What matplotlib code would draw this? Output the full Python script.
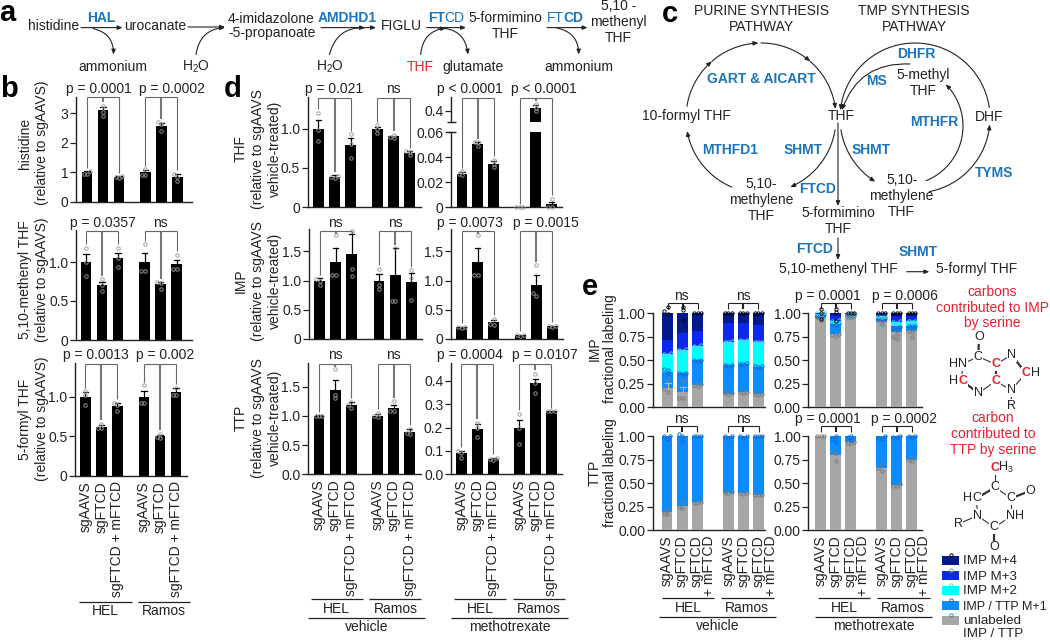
import numpy as np
import matplotlib
matplotlib.use("Agg")
import matplotlib.pyplot as plt
from matplotlib.patches import FancyArrowPatch, Rectangle
from matplotlib.path import Path

plt.rcParams['font.family'] = ['Liberation Sans', 'DejaVu Sans']
plt.rcParams['mathtext.fontset'] = 'custom'
plt.rcParams['mathtext.rm'] = 'Liberation Sans'
plt.rcParams['mathtext.default'] = 'regular'
plt.rcParams['text.color'] = '#222222'

W, H = 1050, 640
BLUE = '#1b75bc'
RED = '#e8222e'
C_M4, C_M3, C_M2, C_M1, C_UN = '#001a8c', '#0a28f0', '#00ffff', '#0a8cff', '#a6a6a6'
FS = 10

# ---------- panel b data ----------
his_mean = [1.0, 3.1, 0.85, 1.0, 2.55, 0.85]
his_err = [0.05, 0.12, 0.03, 0.09, 0.12, 0.08]
his_dots = [[.93, .93, 1.03], [2.9, 3.05, 3.25], [.8, .83, .87], [.92, .92, 1.1], [2.4, 2.7, 2.65], [.7, .85, .95]]
men_mean = [1.0, 0.70, 1.05, 1.0, 0.72, 0.97]
men_err = [0.10, 0.04, 0.07, 0.12, 0.02, 0.06]
men_dots = [[.82, 1.0, 1.18], [.63, .7, .78], [.93, 1.05, 1.18], [.88, .89, 1.23], [.66, .73, .74], [.91, .91, 1.09]]
for_mean = [1.0, 0.62, 0.88, 1.0, 0.50, 1.06]
for_err = [0.06, 0.03, 0.04, 0.07, 0.02, 0.05]
for_dots = [[.9, 1.03, 1.07], [.6, .6, .66], [.82, .9, .93], [.92, .93, 1.15], [.48, .49, .53], [1.02, 1.02, 1.12]]

# ---------- panel d data ----------
thf_veh_mean = [1.0, 0.39, 0.79, 1.0, 0.90, 0.69]
thf_veh_err = [0.11, 0.015, 0.09, 0.02, 0.01, 0.02]
thf_veh_dots = [[.84, .98, 1.2], [.37, .39, .40], [.63, .8, .93], [.95, 1.0, 1.04], [.88, .89, .92], [.66, .70, .71]]
thf_mtx_mean = [0.027, 0.051, 0.035, 0.0, 0.43, 0.0025]
thf_mtx_err = [0.001, 0.001, 0.002, 0.0, 0.02, 0.002]
thf_mtx_dots = [[.026, .027, .029], [.049, .052, .052], [.032, .035, .038], [0, 0, 0], [.40, .43, .46], [0, 0, .007]]
imp_veh_mean = [1.0, 1.32, 1.46, 1.0, 1.10, 0.98]
imp_veh_err = [0.05, 0.23, 0.34, 0.11, 0.45, 0.15]
imp_veh_dots = [[.93, 1.0, 1.03], [1.1, 1.1, 1.78], [1.08, 1.2, 1.85], [.85, .93, 1.2], [.65, .65, 1.55], [.67, 1.05, 1.18]]
imp_mtx_mean = [0.20, 1.32, 0.29, 0.06, 0.92, 0.22]
imp_mtx_err = [0.01, 0.23, 0.04, 0.01, 0.17, 0.01]
imp_mtx_dots = [[.18, .2, .21], [1.1, 1.1, 1.78], [.24, .25, .35], [.05, .06, .07], [.73, .78, 1.26], [.2, .22, .23]]
ttp_veh_mean = [1.0, 1.45, 1.18, 1.0, 1.13, 0.73]
ttp_veh_err = [0.01, 0.16, 0.05, 0.03, 0.06, 0.04]
ttp_veh_dots = [[.99, 1.0, 1.0], [1.3, 1.36, 1.8], [1.13, 1.18, 1.24], [.98, .99, 1.05], [1.08, 1.08, 1.25], [.69, .7, .78]]
ttp_mtx_mean = [0.09, 0.195, 0.067, 0.197, 0.39, 0.27]
ttp_mtx_err = [0.01, 0.02, 0.003, 0.037, 0.02, 0.001]
ttp_mtx_dots = [[.07, .09, .1], [.16, .2, .22], [.06, .065, .07], [.13, .2, .26], [.35, .39, .43], [.27, .27, .27]]

# ---------- panel e data ----------
ev_unl = [.21, .16, .24, .14, .16, .14]
ev_m1 = [.17, .20, .26, .31, .30, .29]
ev_m2 = [.19, .25, .15, .25, .26, .26]
ev_m3 = [.15, .18, .16, .20, .18, .19]
ev_m4 = [.28, .21, .19, .10, .10, .12]
em_unl = [.95, .78, .97, .91, .80, .81]
em_m1 = [.03, .11, .015, .035, .06, .06]
em_m2 = [.01, .03, .005, .025, .05, .05]
em_m3 = [.005, .05, .005, .02, .06, .05]
em_m4 = [.005, .03, .005, .01, .03, .03]
tv_unl = [.19, .26, .30, .40, .40, .37]
tv_m1 = [.81, .74, .70, .60, .60, .63]
tm_unl = [1.0, .80, .94, .66, .48, .75]
tm_m1 = [0.0, .20, .06, .34, .52, .25]

ev_unl_dots = [[.16, .19, .30], [.10, .10, .28], [.25, .24, .23], [.14, .15, .15], [.15, .16, .16], [.13, .14, .14]]
ev_m1_dots = [[.41, .40, .36], [.37, .36, .35], [.50, .50, .49], [.44, .45, .45], [.46, .47, .46], [.43, .44, .44]]
ev_m2_dots = [[.58, .57, .56], [.61, .62, .60], [.66, .65, .64], [.71, .70, .70], [.72, .72, .71], [.69, .70, .69]]
ev_m4_dots = [[1.07, 1.02, .99], [1.07, 1.03, .93], [1, 1, 1], [1, 1, 1], [1, 1, 1], [1, 1, 1]]
em_unl_dots = [[.96, .93, .98], [.77, .78, .76], [.96, .96, .97], [.89, .93, .93], [.73, .75, .78], [.75, .81, .80]]
em_m1_dots = [[.99, .97, .96], [.90, .89, .88], [.98, .985, .99], [.95, .95, .94], [.85, .84, .83], [.87, .86, .86]]
em_m2_dots = [[1.0, 1.01, .99], [.92, .91, .93], [.99, .99, .99], [.97, .96, .97], [.91, .92, .90], [.92, .91, .92]]
em_m4_dots = [[1.05, 1.0, .94], [1.05, 1.01, .92], [1, 1, 1], [1, 1, 1], [1, 1, 1], [1, 1, 1]]
tv_unl_dots = [[.17, .18, .21], [.24, .25, .30], [.29, .30, .29], [.40, .41, .40], [.39, .40, .40], [.37, .37, .37]]
tv_m1_dots = [[.97, 1.0, 1.0], [1.02, 1.0, .95], [1, 1, 1], [.98, 1, 1], [.98, 1, 1], [1, 1, 1]]
tm_unl_dots = [[1, 1, 1], [.74, .82, .83], [.93, .93, .94], [.63, .66, .70], [.47, .47, .49], [.74, .75, .78]]
tm_m1_dots = [[], [1.0, .97, .94], [1, .99, .96], [1.0, .98, .97], [1, .99, .99], [1, 1, .99]]

ev_unl_err = [.05, .06, 0, 0, 0, 0]
em_m4_err = [0, .03, 0, 0, 0, 0]

labels_full = ['sgAAVS', 'sgFTCD', 'sgFTCD + mFTCD']

fig = plt.figure(figsize=(W / 100, H / 100), dpi=100)
ov = fig.add_axes([0, 0, 1, 1], zorder=10)
ov.set_xlim(0, W)
ov.set_ylim(H, 0)
ov.axis('off')
ov.patch.set_alpha(0)


def T(x, y, s, **k):
    k.setdefault('fontsize', FS)
    k.setdefault('ha', 'center')
    k.setdefault('va', 'center')
    return ov.text(x, y, s, **k)


def L(x0, y0, x1, y1, lw=0.9, c='#222222'):
    ov.plot([x0, x1], [y0, y1], color=c, lw=lw, solid_capstyle='butt')


def to_ov(ax, x, y):
    return ov.transData.inverted().transform(ax.transData.transform((x, y)))


def mk_axes(x0, x1, base, top, unit, bar0, sp, bar1g):
    ax = fig.add_axes([x0 / W, 1 - base / H, (x1 - x0) / W, (base - top) / H])
    ax.set_xlim((x0 - bar0) / sp, (x1 - bar0) / sp)
    ax.set_ylim(0, (base - top) / unit)
    for s in ('top', 'right'):
        ax.spines[s].set_visible(False)
    for s in ('left', 'bottom'):
        ax.spines[s].set_linewidth(1.0)
        ax.spines[s].set_color('#222222')
    ax.tick_params(axis='y', length=4, width=0.9, pad=1.5, labelsize=FS, color='#222222', labelcolor='#222222')
    ax.set_xticks([])
    ax.patch.set_alpha(0)
    ax._pos6 = np.array([0, 1, 2, bar1g, bar1g + 1, bar1g + 2]) * 1.0
    ax._sp = sp
    return ax


def swarm(ax, xc, vals, color, ms=2.5, clip=False):
    ordered = sorted(vals)
    placed = []
    for v in ordered:
        py = ax.transData.transform((0, v))[1]
        offs = [0, -1, 1]
        for k in offs:
            dx = k * 3.4
            if all((dx - a) ** 2 + (py - b) ** 2 >= 3.0 ** 2 for a, b in placed):
                break
        placed.append((dx, py))
        ax.plot([xc + dx / ax._sp], [v], 'o', ms=ms, mfc='none', mec=color, mew=0.65,
                zorder=6, clip_on=clip)


def bars(ax, mean, err, dots, yt, yl, xlabels=False):
    pos = ax._pos6
    ax.bar(pos, mean, width=0.68, color='black', zorder=3)
    for p, m, e in zip(pos, mean, err):
        ax.plot([p, p], [m, m + e], color='black', lw=0.9, zorder=4)
        ax.plot([p - .16, p + .16], [m + e, m + e], color='black', lw=0.9, zorder=4)
    for p, d in zip(pos, dots):
        swarm(ax, p, d, '#9a9a9a')
    ax.set_yticks(yt)
    ax.set_yticklabels(yl)
    if xlabels:
        xlab(ax, labels_full)


def xlab(ax, labs):
    for p, s in zip(ax._pos6, labs * 2):
        ax.annotate(s, xy=(p, 0), xycoords=('data', 'axes fraction'), xytext=(0, -4),
                    textcoords='offset points', rotation=90, ha='center', va='top', fontsize=FS,
                    annotation_clip=False)


def bracket(ax, ypx, dots, start=0, sets=(0, 3), legax=None, midgray=True, short=None, c='#666666'):
    for g in sets:
        xs = []
        for i in range(3):
            p = ax._pos6[g + i]
            a = legax[g + i] if legax else ax
            tv = max(dots[g + i]) if dots[g + i] else 0
            x_ov, y_ov = to_ov(a, p, tv)
            y_end = ypx + short if short else min(y_ov - 3.5, 10000)
            y_end = max(y_end, ypx + 3)
            xs.append(x_ov)
            mid = (i == 1)
            L(x_ov, ypx, x_ov, y_end, lw=1.5 if mid else 0.8, c=('#777777' if midgray else c) if mid else c)
        L(xs[0], ypx, xs[2], ypx, lw=0.8, c=c)


# ========== panel b ==========
a1 = mk_axes(76, 192, 201.7, 97, 29.5, 87, 16, 58.3 / 16)
bars(a1, his_mean, his_err, his_dots, [0, 1, 2, 3], ['0', '1', '2', '3'])
a2 = mk_axes(76, 192, 340, 230, 78, 86, 16, 58.7 / 16)
bars(a2, men_mean, men_err, men_dots, [0, .5, 1], ['0', '0.5', '1.0'])
a3 = mk_axes(75, 187, 475.7, 363, 78.7, 85.3, 16, 58.7 / 16)
bars(a3, for_mean, for_err, for_dots, [0, .5, 1], ['0', '0.5', '1.0'], xlabels=True)

# ========== panel d ==========
d1 = mk_axes(307.7, 420.7, 207.3, 97, 78.7, 318.3, 16.2, 59 / 16.2)
bars(d1, thf_veh_mean, thf_veh_err, thf_veh_dots, [0, .5, 1], ['0', '0.5', '1.0'])

d2 = mk_axes(451.3, 561.7, 207.3, 132.3, 1250, 462, 15.9, 57.7 / 15.9)
d2.spines['left'].set_bounds(0, 0.06)
d2.set_ylim(0, 0.06)
d2.patch.set_alpha(0)
bars(d2, thf_mtx_mean, [e if m < .06 else 0 for m, e in zip(thf_mtx_mean, thf_mtx_err)],
     [d if max(d) < .06 else [] for d in thf_mtx_dots],
     [0, .02, .04, .06], ['0', '0.02', '0.04', '0.06'])
d2b = fig.add_axes([451.3 / W, 1 - 122.3 / H, 110.4 / W, 25.3 / H])
d2b.set_xlim(d2.get_xlim())
d2b.set_ylim(0.297, 0.527)
d2b._pos6 = d2._pos6
d2b._sp = d2._sp
for s in ('top', 'right', 'bottom'):
    d2b.spines[s].set_visible(False)
d2b.spines['left'].set_linewidth(1.0)
d2b.spines['left'].set_color('#222222')
d2b.patch.set_alpha(0)
d2b.set_xticks([])
d2b.set_yticks([0.4])
d2b.set_yticklabels(['0.4'])
d2b.tick_params(axis='y', length=4, width=0.9, pad=1.5, labelsize=FS, color='#222222', labelcolor='#222222')
d2b.bar(d2b._pos6, thf_mtx_mean, width=0.68, color='black', zorder=3)
i_big = int(np.argmax(thf_mtx_mean))
p_big = d2b._pos6[i_big]
d2b.plot([p_big, p_big], [thf_mtx_mean[i_big], thf_mtx_mean[i_big] + thf_mtx_err[i_big]], color='black', lw=0.9, zorder=4)
d2b.plot([p_big - .16, p_big + .16], [thf_mtx_mean[i_big] + thf_mtx_err[i_big]] * 2, color='black', lw=0.9, zorder=4)
swarm(d2b, p_big, thf_mtx_dots[i_big], '#9a9a9a', clip=False)
L(447, 122.3, 456, 122.3, lw=1.0)
L(447, 132.3, 456, 132.3, lw=1.0)

d3 = mk_axes(309, 422, 339, 229, 58.4, 319.7, 16.1, 59.3 / 16.1)
bars(d3, imp_veh_mean, imp_veh_err, imp_veh_dots, [0, .5, 1, 1.5], ['0', '0.5', '1.0', '1.5'])
d4 = mk_axes(451, 563, 339, 229, 58.4, 461.7, 16, 58.6 / 16)
bars(d4, imp_mtx_mean, imp_mtx_err, imp_mtx_dots, [0, .5, 1, 1.5], ['0', '0.5', '1.0', '1.5'])
d5 = mk_axes(308, 420.7, 474.3, 363, 58.4, 319, 16.1, 58.7 / 16.1)
bars(d5, ttp_veh_mean, ttp_veh_err, ttp_veh_dots, [0, .5, 1, 1.5], ['0.0', '0.5', '1.0', '1.5'], xlabels=True)
d6 = mk_axes(451, 561.7, 474.3, 363, 233.3, 461.3, 15.9, 58 / 15.9)
bars(d6, ttp_mtx_mean, ttp_mtx_err, ttp_mtx_dots, [0, .1, .2, .3, .4], ['0.0', '0.1', '0.2', '0.3', '0.4'], xlabels=True)

# brackets b, d
bracket(a1, 97.3, his_dots)
bracket(a2, 230.7, men_dots)
bracket(a3, 364, for_dots)
bracket(d1, 98, thf_veh_dots)
bracket(d3, 230.7, imp_veh_dots)
bracket(d4, 230.7, imp_mtx_dots)
bracket(d5, 364.3, ttp_veh_dots)
bracket(d6, 364.3, ttp_mtx_dots)
lax = [d2, d2, d2, d2, d2b, d2]
bracket(d2, 98, thf_mtx_dots, legax=lax)

# ========== panel e ==========
def stack(ax, layers, colors, dotsets, yt=True):
    pos = ax._pos6
    bottom = np.zeros(6)
    for vals, c in zip(layers, colors):
        ax.bar(pos, vals, bottom=bottom, width=0.72, color=c, zorder=3, lw=0)
        bottom = bottom + np.array(vals)
    for ds, c in dotsets:
        for p, d in zip(pos, ds):
            swarm(ax, p, d, c, ms=2.4)
    ax.set_yticks([0, .25, .5, .75, 1])
    ax.set_yticklabels(['0.00', '0.25', '0.50', '0.75', '1.00'])


def err_layer(ax, tops, errs, c):
    for p, t, e in zip(ax._pos6, tops, errs):
        if e:
            ax.plot([p, p], [t, t + e], color=c, lw=0.9, zorder=5)
            ax.plot([p - .2, p + .2], [t + e, t + e], color=c, lw=0.9, zorder=5)


imp_colors = [C_UN, C_M1, C_M2, C_M3, C_M4]
DG, DB, DC, DK = '#7a7a7a', '#1466c8', '#5fd0e8', '#000000'
e1 = mk_axes(652.7, 765, 407.3, 313.3, 94, 667.7, 15, 60.6 / 15)
stack(e1, [ev_unl, ev_m1, ev_m2, ev_m3, ev_m4], imp_colors,
      [(ev_unl_dots, DG), (ev_m1_dots, DB), (ev_m2_dots, DC), (ev_m4_dots, DK)])
err_layer(e1, ev_unl, ev_unl_err, '#c8b48c')
e2 = mk_axes(808.3, 921.7, 407.3, 313.3, 94, 820.7, 15.1, 61 / 15.1)
stack(e2, [em_unl, em_m1, em_m2, em_m3, em_m4], imp_colors,
      [(em_unl_dots, DG), (em_m1_dots, DB), (em_m2_dots, DC), (em_m4_dots, DK)])
e3 = mk_axes(652.7, 765, 530.3, 436, 94.3, 667, 15.1, 61.3 / 15.1)
stack(e3, [tv_unl, tv_m1], [C_UN, C_M1], [(tv_unl_dots, DG), (tv_m1_dots, DB)])
e4 = mk_axes(808.3, 921.7, 530.3, 436, 94.3, 820.7, 15.1, 61 / 15.1)
stack(e4, [tm_unl, tm_m1], [C_UN, C_M1], [(tm_unl_dots, DG), (tm_m1_dots, DB)])
e_labels = ['sgAAVS', 'sgFTCD', 'sgFTCD\n+ mFTCD']
for ax in (e3, e4):
    for p, s in zip(ax._pos6, e_labels * 2):
        dx = 4.4 if '\n' in s else 0
        t = ax.annotate(s, xy=(p, 0), xycoords=('data', 'axes fraction'), xytext=(dx, -4),
                        textcoords='offset points', rotation=90, ha='center', va='top', fontsize=FS,
                        annotation_clip=False, linespacing=0.85, multialignment='right')
for ax, yb, ds in ((e1, 303.3, ev_m4_dots), (e2, 303.3, em_m4_dots), (e3, 425.7, tv_m1_dots), (e4, 425.7, tm_m1_dots)):
    bracket(ax, yb, ds, midgray=False, short=6, c='#222222')

# ---------- p values ----------
for x, y, s in [(98.7, 89, 'p = 0.0001'), (172, 89, 'p = 0.0002'), (102.7, 222.7, 'p = 0.0357'), (160.7, 222.7, 'ns'),
                (96, 355, 'p = 0.0013'), (165, 355, 'p = 0.002'),
                (334, 89, 'p = 0.021'), (393.7, 89, 'ns'), (470, 89, 'p < 0.0001'), (544, 89, 'p < 0.0001'),
                (335.7, 223, 'ns'), (395.3, 223, 'ns'), (470, 223, 'p = 0.0073'), (545.7, 223, 'p = 0.0015'),
                (335.7, 355, 'ns'), (393.7, 355, 'ns'), (470, 355, 'p = 0.0004'), (545, 355, 'p = 0.0107'),
                (681.7, 296, 'ns'), (743.3, 296, 'ns'), (828.3, 296, 'p = 0.0001'), (905, 296, 'p = 0.0006'),
                (681.7, 419.3, 'ns'), (743.3, 419.3, 'ns'), (828.3, 419.3, 'p = 0.0001'), (903.7, 419.3, 'p = 0.0002')]:
    T(x, y, s)

# ---------- y labels, one line at a time ----------
for x, y, s in [(25, 143, 'histidine'), (42, 143, '(relative to sgAAVS)'),
                (25, 280, '5,10-methenyl THF'), (42, 280, '(relative to sgAAVS)'),
                (25, 419, '5-formyl THF'), (42, 419, '(relative to sgAAVS)'),
                (241, 149, 'THF'), (258, 149, '(relative to sgAAVS'), (275, 149, 'vehicle-treated)'),
                (241, 281, 'IMP'), (258, 281, '(relative to sgAAVS'), (275, 281, 'vehicle-treated)'),
                (241, 418, 'TTP'), (258, 418, '(relative to sgAAVS'), (275, 418, 'vehicle-treated)'),
                (595, 349, 'IMP'), (610, 349, 'fractional labeling'),
                (595, 473, 'TTP'), (610, 473, 'fractional labeling')]:
    T(x, y, s, rotation=90)

# ---------- group lines ----------
for x0, x1, y in [(79.3, 131.7, 601.7), (138.3, 190, 601.7), (310.7, 362.7, 598.7), (369.3, 421.3, 598.7),
                  (454, 506, 598.7), (512.7, 564.7, 598.7), (307.7, 424.7, 617.7), (451, 567.7, 617.7),
                  (662.3, 714.3, 598), (720.7, 774, 598), (818.3, 870, 598), (876.7, 930, 598),
                  (659, 775.7, 616.7), (815, 931.7, 616.7)]:
    L(x0, y, x1, y, lw=0.9)
for x, y, s in [(105, 611, 'HEL'), (164, 611, 'Ramos'), (336.7, 608.7, 'HEL'), (395.7, 608.7, 'Ramos'),
                (480, 608.7, 'HEL'), (539, 608.7, 'Ramos'), (366.3, 626.7, 'vehicle'), (509.3, 626.7, 'methotrexate'),
                (688.3, 607.7, 'HEL'), (746.7, 607.7, 'Ramos'), (844.3, 607.7, 'HEL'), (902.7, 607.7, 'Ramos'),
                (717.7, 625.7, 'vehicle'), (873.3, 625.7, 'methotrexate')]:
    T(x, y, s)

# ---------- panel letters ----------
for x, y, s in [(-1, 21, 'a'), (0, 97, 'b'), (662, 22, 'c'), (224, 97, 'd'), (582, 295, 'e')]:
    T(x, y, s, fontsize=21, fontweight='bold', ha='left', va='baseline', color='black')

# ---------- arrows ----------
AS = '-|>,head_length=0.26,head_width=0.11'


def arrow(p0, p1, rad=0.0, lw=0.8):
    ov.add_patch(FancyArrowPatch(p0, p1, arrowstyle=AS, mutation_scale=11, lw=lw, color='#222222',
                                 connectionstyle=f'arc3,rad={rad}', shrinkA=0, shrinkB=0))


def arc(cx, cy, r, a0, a1, lw=0.8, head=True):
    t = np.radians(np.linspace(a0, a1, 40))
    pts = np.column_stack([cx + r * np.cos(t), cy - r * np.sin(t)])
    ov.add_patch(FancyArrowPatch(path=Path(pts), arrowstyle=AS if head else '-', mutation_scale=11,
                                 lw=lw, color='#222222'))


# ---------- panel a ----------
for x, y, s in [(53.8, 26, 'histidine'), (155, 26, 'urocanate'), (401, 26, 'FIGLU'),
                (113, 67, 'ammonium'), (196, 67, 'H$_2$O'), (329.5, 67, 'H$_2$O'), (473, 67, 'glutamate'),
                (578.6, 67, 'ammonium')]:
    T(x, y, s)
T(228, 26, '4-imidazolone\n-5-propanoate', ha='left', linespacing=1.05)
T(505.6, 26, '5-formimino\nTHF', linespacing=1.2)
T(618.5, 22, '5,10 -\nmethenyl\nTHF', linespacing=1.15)
T(420, 67, 'THF', color=RED)
T(100.8, 18, 'HAL', color=BLUE, fontweight='bold')
T(347.6, 18, 'AMDHD1', color=BLUE, fontweight='bold')
T(445, 18, 'FT', color=BLUE, fontweight='bold', ha='right')
T(444.5, 18, 'CD', color=BLUE, ha='left')
T(564, 18, 'FT', color=BLUE, ha='right')
T(563.5, 18, 'CD', color=BLUE, fontweight='bold', ha='left')
arrow((81, 27.6), (122.5, 27.6))
arrow((188, 27), (225, 27))
arrow((321, 27.6), (376, 27.6))
arrow((426.6, 27.6), (466, 27.6))
arrow((547, 27.6), (587.5, 27.6))
arrow((93, 28.5), (113.5, 54.5), rad=-0.4)
arrow((196, 54.5), (225, 27.5), rad=-0.4)
arrow((329.5, 54.5), (365, 27.8), rad=-0.4)
arrow((420.7, 54.5), (446, 28), rad=-0.4)
arrow((438, 28), (468, 54.5), rad=-0.45)
arrow((557, 28), (578.7, 54.5), rad=-0.4)

# ---------- panel c ----------
T(761, 19, 'PURINE SYNTHESIS\nPATHWAY', linespacing=1.15)
T(914, 19, 'TMP SYNTHESIS\nPATHWAY', linespacing=1.15)
for x, y, s in [(761.7, 79, 'GART & AICART'), (730, 150, 'MTHFD1'), (802.7, 150, 'SHMT'), (871, 150, 'SHMT'),
                (818, 189, 'FTCD'), (815, 249, 'FTCD'), (917.7, 252, 'SHMT'), (916.7, 54, 'DHFR'), (876.7, 81, 'MS'),
                (934, 122, 'MTHFR'), (994, 173, 'TYMS')]:
    T(x, y, s, color=BLUE, fontweight='bold')
T(686.7, 116, '10-formyl THF')
T(841, 116, 'THF')
T(761, 200, '5,10-\nmethylene\nTHF', linespacing=1.15)
T(901.7, 196, '5,10-\nmethylene\nTHF', linespacing=1.15)
T(838, 221, '5-formimino\nTHF', linespacing=1.15)
T(838, 269, '5,10-methenyl THF')
T(936, 269, '5-formyl THF', ha='left')
T(923.3, 82.7, '5-methyl\nTHF', linespacing=1.15)
T(989, 116.7, 'DHF')
for a in [(171, 131), (131, 92), (90, 49), (49, 7), (-9, -67), (-113, -170)]:
    arc(761, 118, 75, *a)
arc(915, 118, 75, 8, 174)
arc(915, 118, 75, -79, -5)
arc(915, 118, 75, -171, -122)
arc(904, 126, 59, -68, 45)
arrow((910, 64), (842, 110), rad=0.37)
arrow((838, 123), (838, 206))
arrow((838, 238), (838, 260))
arrow((906.7, 271.7), (929.3, 271.7))

# ---------- chemistry ----------
T(992, 307.7, 'carbons\ncontributed to IMP\nby serine', color=RED, linespacing=1.15)
T(993, 434, 'carbon\ncontributed to\nTTP by serine', color=RED, linespacing=1.15)


def mol(bonds, atoms):
    for (p, q, lw) in bonds:
        L(p[0], p[1], q[0], q[1], lw=lw, c='#333333')
    for x, y, s, red in atoms:
        T(x, y, s, fontsize=9, color=RED if red else '#222222', fontweight='bold' if red else 'normal',
          bbox=dict(boxstyle='square,pad=0.05', fc='white', ec='none'))


IO, IC1, IN1, IC2, IN2, IC3, IC4, IN3, IC5, IN4, IR = (979, 337.3), (978.3, 356.7), (961.7, 364.3), (962.7, 381), \
    (978.3, 393.3), (995.7, 381), (995.7, 364.3), (1011.7, 355), (1026, 373.3), (1011, 390), (1011.7, 406)
mol([(IO, IC1, 1.6), (IC1, IN1, 0.8), (IN1, IC2, 0.8), (IC2, IN2, 1.6), (IN2, IC3, 0.8), (IC3, IC4, 1.6), (IC4, IC1, 0.8),
     (IC4, IN3, 0.8), (IN3, IC5, 1.6), (IC5, IN4, 0.8), (IN4, IC3, 0.8), (IN4, IR, 0.8)],
    [(979, 337.3, 'O', 0), (978.3, 356.7, 'C', 0), (958.5, 364.3, 'HN', 0), (953.5, 381, 'H', 0), (962.7, 381, 'C', 1),
     (978.3, 393.3, 'N', 0), (995.7, 381, 'C', 1), (995.7, 364.3, 'C', 1), (1011.7, 355, 'N', 0),
     (1026, 373.3, 'C', 1), (1035, 373.3, 'H', 0), (1011, 390, 'N', 0), (1011.7, 406, 'R', 0)])

TC1, TC2, TC3, TC4, TN1, TN2, TC5, TO1, TO2, TR = (995, 468.3), (995, 487.3), (976.7, 498.3), (1011, 498.3), (977.3, 515.7), \
    (1012, 515.7), (994.3, 527.3), (1030.7, 490.7), (994.3, 547.3), (958.3, 524)
mol([(TC1, TC2, 0.8), (TC2, TC3, 1.6), (TC2, TC4, 0.8), (TC4, TO1, 1.6), (TC3, TN1, 0.8), (TC4, TN2, 0.8), (TN1, TC5, 0.8),
     (TN2, TC5, 0.8), (TC5, TO2, 1.6), (TN1, TR, 0.8)],
    [(995, 468.3, 'C', 1), (995, 487.3, 'C', 0), (967.3, 498.3, 'H', 0), (976.7, 498.3, 'C', 0), (1011, 498.3, 'C', 0),
     (977.3, 515.7, 'N', 0), (1015, 515.7, 'NH', 0), (994.3, 527.3, 'C', 0), (1030.7, 490.7, 'O', 0), (994.3, 547.3, 'O', 0),
     (958.3, 524, 'R', 0)])
T(1006, 467.5, 'H$_3$', fontsize=9)

# ---------- legend ----------
leg = [(C_M4, 'IMP M+4', DK), (C_M3, 'IMP M+3', '#8aa0c8'), (C_M2, 'IMP M+2', DC), (C_M1, 'IMP / TTP M+1', DB), (C_UN, 'unlabeled', DG)]
for i, (c, s, dc) in enumerate(leg):
    y = 560 + 15 * i
    ov.add_patch(Rectangle((942.3, y - 4.5), 16.7, 9, fc=c, ec='none'))
    ov.plot([951], [y - 5], 'o', ms=2.4, mfc='none', mec=dc, mew=0.7)
    T(962.7, y + 1.5, s, ha='left', fontsize=9.0 if 'TTP' in s else 9.6)
T(962.7, 634, 'IMP / TTP', ha='left', fontsize=9.6)

fig.savefig('out.png', dpi=100)
